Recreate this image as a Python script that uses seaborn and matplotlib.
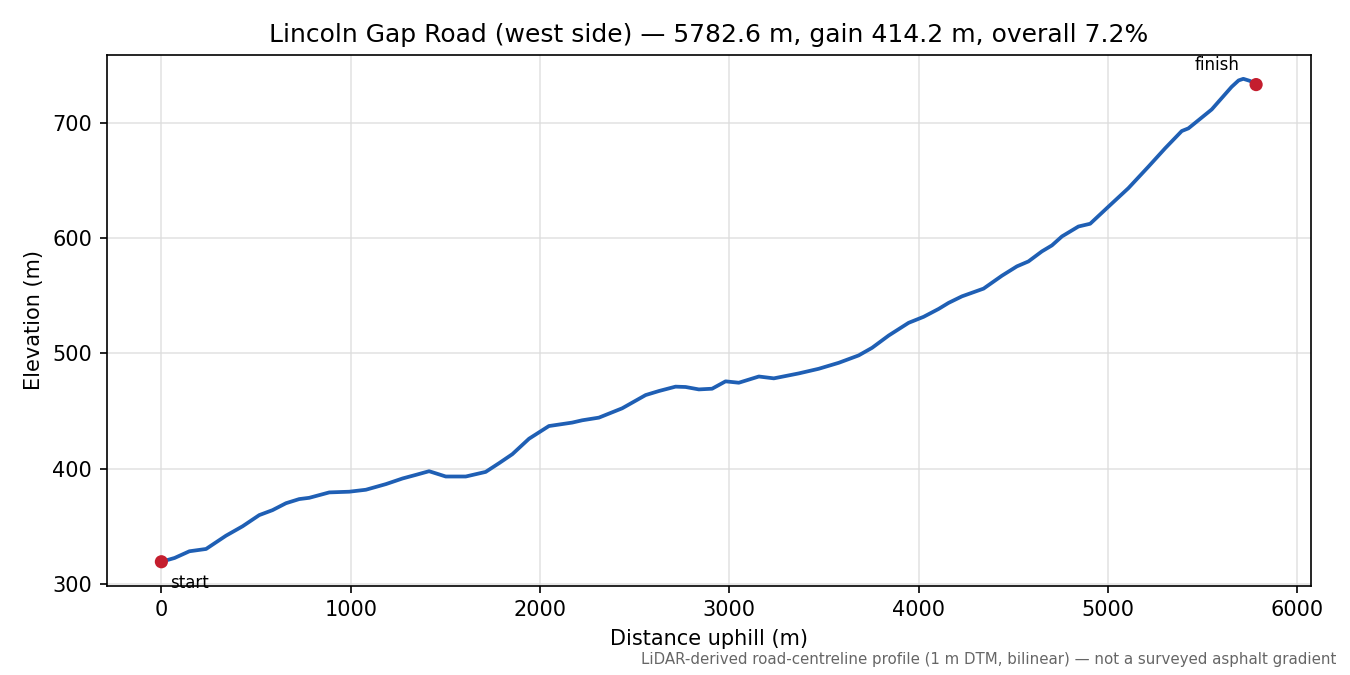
import numpy as np
import pandas as pd
import seaborn as sns
import matplotlib
matplotlib.use("Agg")
import matplotlib.pyplot as plt

# profile
distance_m = [0, 70, 148, 236, 341, 429, 517, 587, 658, 728, 781, 887, 992, 1080,
              1186, 1274, 1344, 1414, 1502, 1608, 1713, 1784, 1854, 1942, 2047,
              2170, 2223, 2311, 2434, 2558, 2628, 2716, 2769, 2839, 2909, 2980,
              3050, 3156, 3235, 3367, 3472, 3578, 3683, 3754, 3842, 3947, 4026,
              4106, 4158, 4229, 4343, 4440, 4519, 4580, 4651, 4704, 4757, 4844,
              4906, 5003, 5108, 5214, 5302, 5390, 5425, 5548, 5653, 5690, 5715,
              5750, 5782.6]
elevation_m = [319.2, 322.5, 328.3, 330.3, 341.8, 350.0, 359.7, 364.0, 370.0, 373.6,
               374.7, 379.4, 380.0, 381.7, 386.6, 391.5, 394.6, 397.8, 393.2, 393.2,
               397.2, 404.8, 412.6, 426.0, 437.0, 440.0, 442.0, 444.3, 452.4, 463.9,
               467.4, 471.2, 470.9, 468.8, 469.4, 475.8, 474.6, 480.0, 478.4, 482.7,
               486.7, 491.9, 498.3, 504.9, 515.6, 526.6, 531.8, 538.7, 543.9, 549.6,
               556.3, 567.5, 575.6, 579.9, 588.6, 593.8, 601.6, 610.2, 612.6, 627.5,
               643.5, 662.2, 678.1, 693.1, 695.4, 711.8, 731.4, 737.0, 738.4, 736.6,
               733.4]

title = "Lincoln Gap Road (west side) \u2014 5782.6 m, gain 414.2 m, overall 7.2%"
note = "LiDAR-derived road-centreline profile (1 m DTM, bilinear) \u2014 not a surveyed asphalt gradient"

df = pd.DataFrame({"dist": distance_m, "elev": elevation_m})

sns.set_style("ticks", {"axes.edgecolor": "black", "text.color": "black",
                        "axes.labelcolor": "black", "xtick.color": "black",
                        "ytick.color": "black"})
plt.rcParams['font.family'] = ['DejaVu Sans']

fig, ax = plt.subplots(figsize=(9, 4.5), dpi=150)
sns.lineplot(data=df, x="dist", y="elev", color="#1f5fb4", linewidth=1.8, ax=ax)

ends = df.iloc[[0, -1]]
sns.scatterplot(data=ends, x="dist", y="elev", color="#c41e2e", s=40,
                edgecolor="none", zorder=5, ax=ax)

ax.annotate("start", (distance_m[0], elevation_m[0]), xytext=(4, -6),
            textcoords="offset points", ha="left", va="top", fontsize=8)
ax.annotate("finish", (distance_m[-1], elevation_m[-1]), xytext=(-8, 5),
            textcoords="offset points", ha="right", va="bottom", fontsize=8)

ax.grid(True, color="#dddddd", linewidth=0.8, alpha=0.8)
ax.set_title(title, fontsize=12)
ax.set_xlabel("Distance uphill (m)")
ax.set_ylabel("Elevation (m)")

fig.text(0.99, 0.012, note, ha="right", va="bottom", fontsize=7.2, color="#666666")
fig.subplots_adjust(left=0.079, right=0.971, top=0.919, bottom=0.132)
fig.savefig("out.png", dpi=150)
